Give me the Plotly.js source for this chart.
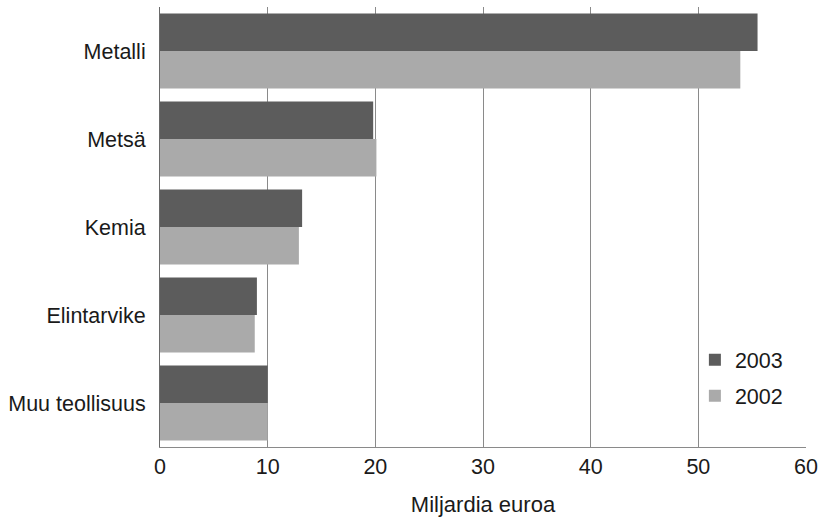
<!DOCTYPE html>
<html>
<head>
<meta charset="utf-8">
<script src="https://cdn.plot.ly/plotly-3.0.1.min.js"></script>
<style>html,body{margin:0;padding:0;background:#fff;}#chart{width:818px;height:517px;}</style>
</head>
<body>
<div id="chart"></div>
<script>
const categories = ["Metalli", "Metsä", "Kemia", "Elintarvike", "Muu teollisuus"];
const values2003 = [55.5, 19.8, 13.2, 9.0, 10.0];
const values2002 = [53.9, 20.1, 12.9, 8.8, 10.0];
const xTicks = [0, 10, 20, 30, 40, 50, 60];

const traces = [
  {type: "bar", orientation: "h", name: "2003", y: categories, x: values2003, legendgroup: "a",
   marker: {color: "#5c5c5c", line: {width: 0}}, hoverinfo: "x"},
  {type: "bar", orientation: "h", name: "2002", y: categories, x: values2002, legendgroup: "b",
   marker: {color: "#aaaaaa", line: {width: 0}}, hoverinfo: "x"}
];

const layout = {
  width: 818, height: 517,
  margin: {l: 160, r: 12, t: 7, b: 70},
  paper_bgcolor: "#fff", plot_bgcolor: "#fff",
  font: {family: "Liberation Sans, Arial, sans-serif", size: 21.5, color: "#1a1a1a"},
  barmode: "group", bargap: 0.15, bargroupgap: 0,
  showlegend: true,
  legend: {x: 0.828, y: 0.245, xanchor: "left", yanchor: "top", bgcolor: "rgba(0,0,0,0)",
           font: {size: 21.5}, tracegroupgap: 5, itemwidth: 30},
  xaxis: {range: [0, 60], tickvals: xTicks, ticktext: xTicks.map(String),
          showgrid: true, gridcolor: "#8a8a8a", gridwidth: 1,
          showline: true, linecolor: "#8a8a8a", linewidth: 1,
          ticks: "", zeroline: false, fixedrange: true,
          title: {text: "Miljardia euroa", font: {size: 22}, standoff: 22}},
  yaxis: {type: "category", autorange: "reversed",
          showline: true, linecolor: "#6a6a6a", linewidth: 1,
          showgrid: false, ticks: "", ticklen: 0, zeroline: false,
          automargin: false, fixedrange: true, ticklabelstandoff: 9}
};

Plotly.newPlot("chart", traces, layout, {displayModeBar: false, staticPlot: true});
</script>
</body>
</html>
